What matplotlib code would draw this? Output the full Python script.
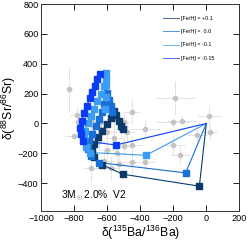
import matplotlib
matplotlib.use("Agg")
import matplotlib.pyplot as plt

plt.rcParams['font.family'] = ['Liberation Sans', 'DejaVu Sans']
plt.rcParams['mathtext.fontset'] = 'custom'
plt.rcParams['mathtext.rm'] = 'Liberation Sans'
plt.rcParams['mathtext.it'] = 'Liberation Sans:italic'

# Measured grains (gray points with error bars)
gx = [-830, -189, -452, -149, 18, -371, -200, -159, -371, -452, -452, -55, 22, -204,
      -805, -785, -775, -700, -650, -600, -560, -520, -500, -600, -650, -700, -540,
      -480, -720, -560, -500, -620, -700, -580, -680, -640, -530]
gy = [230, 173, 80, 18, 47, -35, -142, -209, -260, -260, -142, -75, -60, 7,
      -87, 58, 13, 20, -30, -60, -100, -40, -150, -180, -120, -100, -200,
      -60, 50, 30, 10, -250, -300, -300, -20, 10, -270]
gxe = [15, 120, 50, 90, 73, 90, 70, 60, 60, 60, 60, 60, 40, 100,
       50, 40, 40, 60, 50, 60, 50, 40, 60, 50, 40, 60, 50,
       50, 40, 50, 40, 60, 50, 50, 40, 50, 40]
gye = [150, 115, 85, 30, 65, 60, 70, 60, 60, 80, 60, 60, 50, 30,
       20, 60, 60, 60, 70, 60, 80, 60, 70, 60, 60, 70, 80,
       60, 60, 50, 60, 70, 90, 80, 60, 60, 70]

# Model tracks
labels = ['[Fe/H] = +0.1', '[Fe/H] =  0.0', '[Fe/H] = -0.1', '[Fe/H] = -0.15']
colors = ['#0b3a6b', '#1a6fd6', '#3d9cf5', '#0a3cf5']

x_p01 = [0, -42, -505, -634, -680, -690, -680, -655, -634, -604, -580, -560, -545, -530, -515, -505]
y_p01 = [0, -420, -340, -275, -225, -180, -135, -90, -50, -6, 40, 85, 60, 20, -20, -40]

x_00 = [0, -125, -650, -700, -715, -710, -690, -670, -650, -635, -620, -610, -600, -590, -580, -570]
y_00 = [0, -331, -262, -215, -170, -120, -70, -20, 30, 80, 130, 180, 205, 160, 120, 80]

x_m01 = [0, -365, -705, -730, -740, -735, -720, -700, -680, -660, -640, -620, -610, -605, -608, -610, -612]
y_m01 = [0, -213, -195, -155, -100, -50, 0, 50, 100, 150, 200, 250, 300, 340, 260, 180, 100]

x_m015 = [0, -547, -745, -759, -765, -755, -740, -725, -705, -690, -672, -660, -645]
y_m015 = [0, -144, -117, -73, -29, 16, 70, 120, 170, 210, 250, 300, 335]

series_x = [x_p01, x_00, x_m01, x_m015]
series_y = [y_p01, y_00, y_m01, y_m015]

fig = plt.figure(figsize=(2.49, 2.42), dpi=100)
ax = fig.add_axes([0.166, 0.129, 0.795, 0.854])

ax.errorbar(gx, gy, xerr=gxe, yerr=gye, fmt='o', ms=3, color='#c4c4c4',
            ecolor='#dedede', elinewidth=0.6, capsize=0, zorder=1)

for xs, ys, c, lab in zip(series_x, series_y, colors, labels):
    ax.plot(xs, ys, '-', color=c, lw=0.8, label=lab, zorder=3)
    ax.plot(xs[1:], ys[1:], 's', color=c, ms=4.5, mec=c, zorder=4)

ax.set_xlim(-1000, 200)
ax.set_ylim(-585, 800)
ax.set_xticks([-1000, -800, -600, -400, -200, 0, 200])
ax.set_yticks([-400, -200, 0, 200, 400, 600, 800])
ax.set_xticklabels(['\u22121000', '\u2212800', '\u2212600', '\u2212400', '\u2212200', '0', '200'])
ax.set_yticklabels(['\u2212400', '\u2212200', '0', '200', '400', '600', '800'])
ax.tick_params(direction='in', length=4, width=0.6, labelsize=6.6, pad=2,
               top=True, right=True)
for s in ax.spines.values():
    s.set_linewidth(0.7)
    s.set_color('#333333')

ax.set_xlabel(r'δ($\mathregular{^{135}}$Ba/$\mathregular{^{136}}$Ba)', fontsize=8.8, labelpad=1)
ax.set_ylabel(r'δ($\mathregular{^{88}}$Sr/$\mathregular{^{86}}$Sr)', fontsize=8.8, labelpad=0)

ax.text(-880, -485, r'3M$_\odot$2.0%  V2', fontsize=7.4, va='center', ha='left')

leg = ax.legend(loc='upper left', bbox_to_anchor=(0.595, 0.96), frameon=False,
                fontsize=3.9, handlelength=3.0, handletextpad=0.4, labelspacing=1.5,
                borderpad=0.2)
for h in leg.get_lines():
    h.set_linewidth(0.7)
    h.set_alpha(0.75)

fig.savefig('out.png', dpi=100)
